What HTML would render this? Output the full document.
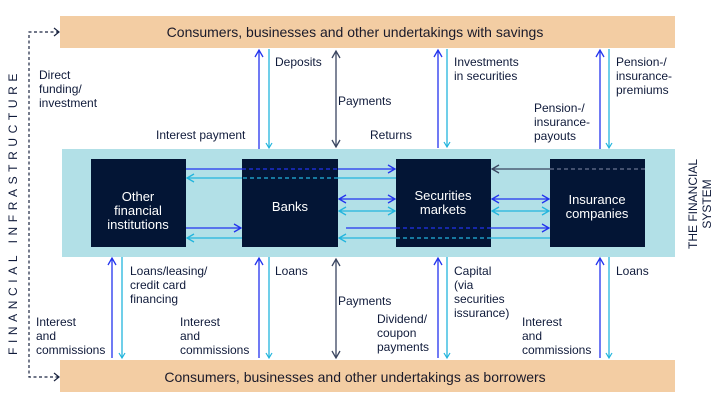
<!DOCTYPE html>
<html><head><style>
html,body{margin:0;padding:0;background:#fff;}
svg{display:block;font-family:"Liberation Sans",Arial,sans-serif;}
.l{font-size:12px;fill:#0f1a3a;}
</style></head><body>
<svg width="722" height="412" viewBox="0 0 722 412" xmlns="http://www.w3.org/2000/svg">
<defs>
<marker id="ab" markerWidth="10" markerHeight="10" refX="8" refY="5" orient="auto-start-reverse" markerUnits="userSpaceOnUse"><path d="M1,1 L8,5 L1,9" fill="none" stroke="#2233ee" stroke-width="1.3"/></marker>
<marker id="ac" markerWidth="10" markerHeight="10" refX="8" refY="5" orient="auto-start-reverse" markerUnits="userSpaceOnUse"><path d="M1,1 L8,5 L1,9" fill="none" stroke="#22b5dd" stroke-width="1.3"/></marker>
<marker id="ad" markerWidth="10" markerHeight="10" refX="8" refY="5" orient="auto-start-reverse" markerUnits="userSpaceOnUse"><path d="M1,1 L8,5 L1,9" fill="none" stroke="#3a4560" stroke-width="1.3"/></marker>
<marker id="as" markerWidth="8" markerHeight="8" refX="6" refY="4" orient="auto-start-reverse" markerUnits="userSpaceOnUse"><path d="M1,1 L6,4 L1,7" fill="none" stroke="#22b5dd" stroke-width="1.2"/></marker>
</defs>
<rect x="60" y="16" width="615" height="32" fill="#f3cda3"/>
<text x="355" y="37" text-anchor="middle" font-size="14" fill="#1a1a2a">Consumers, businesses and other undertakings with savings</text>
<rect x="60" y="360" width="615" height="32" fill="#f3cda3"/>
<text x="355" y="382" text-anchor="middle" font-size="14" fill="#1a1a2a">Consumers, businesses and other undertakings as borrowers</text>
<rect x="62" y="149" width="613" height="108" fill="#b2e0e7"/>
<rect x="91" y="159" width="95" height="88" fill="#031535"/>
<rect x="242" y="159" width="96" height="88" fill="#031535"/>
<rect x="396" y="159" width="95" height="88" fill="#031535"/>
<rect x="550" y="159" width="95" height="88" fill="#031535"/>
<g font-size="13" fill="#fff" text-anchor="middle">
<text x="138" y="201">Other</text><text x="138" y="215">financial</text><text x="138" y="229">institutions</text>
<text x="290" y="211">Banks</text>
<text x="443" y="200">Securities</text><text x="443" y="214">markets</text>
<text x="597" y="204">Insurance</text><text x="597" y="218">companies</text>
</g>
<g fill="none" stroke-width="1.3">
<line x1="186" y1="169" x2="242" y2="169" stroke="#2233ee"/>
<line x1="242" y1="169" x2="338" y2="169" stroke="#2233ee" stroke-dasharray="4,3"/>
<line x1="338" y1="169" x2="395" y2="169" stroke="#2233ee" marker-end="url(#ab)"/>
<line x1="396" y1="178" x2="338" y2="178" stroke="#22b5dd"/>
<line x1="338" y1="178" x2="242" y2="178" stroke="#22b5dd" stroke-dasharray="4,3"/>
<line x1="242" y1="178" x2="187" y2="178" stroke="#22b5dd" marker-end="url(#ac)"/>
<line x1="645" y1="169" x2="550" y2="169" stroke="#6a7590" stroke-dasharray="4,3"/>
<line x1="550" y1="169" x2="492" y2="169" stroke="#3a4560" marker-end="url(#ad)"/>
<line x1="339" y1="199" x2="395" y2="199" stroke="#2233ee" marker-start="url(#ab)" marker-end="url(#ab)"/>
<line x1="339" y1="211" x2="395" y2="211" stroke="#22b5dd" marker-start="url(#ac)" marker-end="url(#ac)"/>
<line x1="492" y1="199" x2="549" y2="199" stroke="#2233ee" marker-start="url(#ab)" marker-end="url(#ab)"/>
<line x1="492" y1="211" x2="549" y2="211" stroke="#22b5dd" marker-start="url(#ac)" marker-end="url(#ac)"/>
<line x1="186" y1="228" x2="241" y2="228" stroke="#2233ee" marker-end="url(#ab)"/>
<line x1="242" y1="238" x2="187" y2="238" stroke="#22b5dd" marker-end="url(#ac)"/>
<line x1="346" y1="228" x2="396" y2="228" stroke="#2233ee"/>
<line x1="396" y1="228" x2="491" y2="228" stroke="#2233ee" stroke-dasharray="4,3"/>
<line x1="491" y1="228" x2="549" y2="228" stroke="#2233ee" marker-end="url(#ab)"/>
<line x1="550" y1="238" x2="491" y2="238" stroke="#22b5dd"/>
<line x1="491" y1="238" x2="396" y2="238" stroke="#22b5dd" stroke-dasharray="4,3"/>
<line x1="396" y1="238" x2="339" y2="238" stroke="#22b5dd" marker-end="url(#ac)"/>
</g>
<g fill="none" stroke-width="1.3">
<line x1="259" y1="149" x2="259" y2="50" stroke="#2233ee" marker-end="url(#ab)"/>
<line x1="269" y1="49" x2="269" y2="148" stroke="#22b5dd" marker-end="url(#as)"/>
<line x1="336" y1="51" x2="336" y2="147" stroke="#3a4560" marker-start="url(#ad)" marker-end="url(#ad)"/>
<line x1="438" y1="148" x2="438" y2="50" stroke="#2233ee" marker-end="url(#ab)"/>
<line x1="447" y1="49" x2="447" y2="147" stroke="#22b5dd" marker-end="url(#as)"/>
<line x1="600" y1="149" x2="600" y2="50" stroke="#2233ee" marker-end="url(#ab)"/>
<line x1="609" y1="49" x2="609" y2="148" stroke="#22b5dd" marker-end="url(#as)"/>
<line x1="112" y1="358" x2="112" y2="258" stroke="#2233ee" marker-end="url(#ab)"/>
<line x1="122" y1="257" x2="122" y2="358" stroke="#22b5dd" marker-end="url(#as)"/>
<line x1="259" y1="358" x2="259" y2="258" stroke="#2233ee" marker-end="url(#ab)"/>
<line x1="269" y1="257" x2="269" y2="358" stroke="#22b5dd" marker-end="url(#as)"/>
<line x1="336" y1="259" x2="336" y2="358" stroke="#3a4560" marker-start="url(#ad)" marker-end="url(#ad)"/>
<line x1="438" y1="358" x2="438" y2="258" stroke="#2233ee" marker-end="url(#ab)"/>
<line x1="447" y1="257" x2="447" y2="358" stroke="#22b5dd" marker-end="url(#as)"/>
<line x1="600" y1="358" x2="600" y2="258" stroke="#2233ee" marker-end="url(#ab)"/>
<line x1="609" y1="257" x2="609" y2="358" stroke="#22b5dd" marker-end="url(#as)"/>
<path d="M59,32 L29,32 L29,377 L59,377" stroke="#1a2440" stroke-dasharray="3,2.5" stroke-width="1.2"/>
<path d="M54,28 L59,32 L54,36 M54,373 L59,377 L54,381" stroke="#1a2440" stroke-width="1.2"/>
</g>
<g class="l">
<text x="275" y="66">Deposits</text>
<text x="39" y="79">Direct</text><text x="39" y="93">funding/</text><text x="39" y="107">investment</text>
<text x="156" y="139">Interest payment</text>
<text x="338" y="105">Payments</text>
<text x="370" y="139">Returns</text>
<text x="454" y="66">Investments</text><text x="454" y="80">in securities</text>
<text x="534" y="112">Pension-/</text><text x="534" y="126">insurance-</text><text x="534" y="140">payouts</text>
<text x="616" y="66">Pension-/</text><text x="616" y="80">insurance-</text><text x="616" y="94">premiums</text>
<text x="130" y="275">Loans/leasing/</text><text x="130" y="289">credit card</text><text x="130" y="303">financing</text>
<text x="36" y="326">Interest</text><text x="36" y="340">and</text><text x="36" y="354">commissions</text>
<text x="180" y="326">Interest</text><text x="180" y="340">and</text><text x="180" y="354">commissions</text>
<text x="275" y="275">Loans</text>
<text x="338" y="305">Payments</text>
<text x="377" y="323">Dividend/</text><text x="377" y="337">coupon</text><text x="377" y="351">payments</text>
<text x="454" y="275">Capital</text><text x="454" y="289">(via</text><text x="454" y="303">securities</text><text x="454" y="317">issurance)</text>
<text x="522" y="326">Interest</text><text x="522" y="340">and</text><text x="522" y="354">commissions</text>
<text x="616" y="275">Loans</text>
</g>
<text transform="translate(17,212) rotate(-90)" text-anchor="middle" font-size="12" letter-spacing="4.6" fill="#0f1a3a">FINANCIAL INFRASTRUCTURE</text>
<text transform="translate(697,204) rotate(-90)" text-anchor="middle" font-size="12" fill="#0f1a3a">THE FINANCIAL</text>
<text transform="translate(711,204) rotate(-90)" text-anchor="middle" font-size="12" fill="#0f1a3a">SYSTEM</text>
</svg>
</body></html>
